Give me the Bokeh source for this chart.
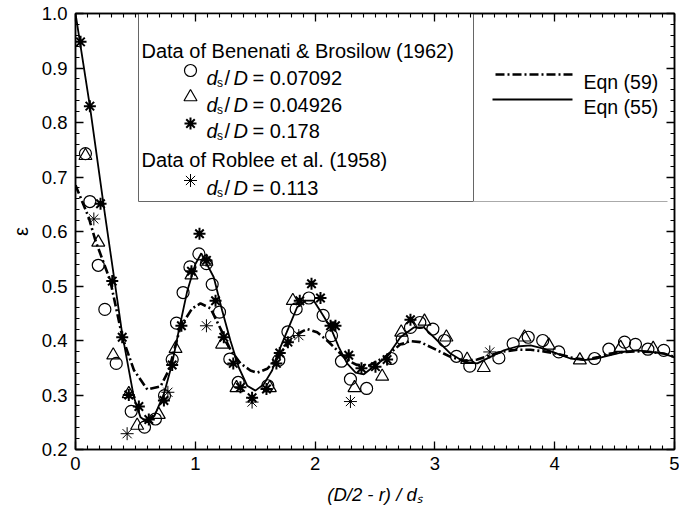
from bokeh.plotting import figure
from bokeh.models import (LinearAxis, Range1d, Label, PrintfTickFormatter,
                          SingleIntervalTicker)
from bokeh.embed import file_html
from bokeh.resources import INLINE

# ---------------- data ----------------
# Benenati & Brosilow (1962), d_s/D = 0.07092 (open circles)
circ_x = [0.083, 0.12, 0.19, 0.245, 0.34, 0.465, 0.576, 0.667, 0.743, 0.807,
          0.843, 0.898, 0.955, 1.03, 1.093, 1.141, 1.202, 1.288, 1.358, 1.605,
          1.697, 1.773, 1.842, 1.948, 2.067, 2.137, 2.22, 2.295, 2.43, 2.635,
          2.727, 2.796, 2.874, 2.983, 3.08, 3.18, 3.291, 3.534, 3.653, 3.779,
          3.90, 4.034, 4.333, 4.452, 4.583, 4.674, 4.778, 4.91]
circ_y = [0.743, 0.655, 0.538, 0.457, 0.358, 0.270, 0.241, 0.256, 0.299, 0.365,
          0.432, 0.488, 0.535, 0.559, 0.541, 0.503, 0.452, 0.366, 0.323, 0.317,
          0.364, 0.416, 0.458, 0.478, 0.446, 0.409, 0.362, 0.329, 0.312, 0.367,
          0.403, 0.424, 0.433, 0.421, 0.400, 0.371, 0.353, 0.368, 0.394, 0.406,
          0.400, 0.379, 0.367, 0.384, 0.397, 0.393, 0.384, 0.382]

# d_s/D = 0.04926 (open triangles)
tri_x = [0.083, 0.19, 0.315, 0.445, 0.515, 0.695, 0.835, 0.968, 1.093, 1.224,
         1.344, 1.622, 1.814, 2.329, 2.56, 2.719, 2.913, 3.096, 3.269, 3.408,
         3.748, 3.951, 4.21, 4.55, 4.822]
tri_y = [0.739, 0.580, 0.373, 0.302, 0.244, 0.264, 0.385, 0.520, 0.545, 0.393,
         0.313, 0.313, 0.473, 0.313, 0.334, 0.415, 0.435, 0.406, 0.365, 0.350,
         0.406, 0.391, 0.364, 0.387, 0.385]

# d_s/D = 0.178 (heavy asterisks)
star_x = [0.042, 0.12, 0.209, 0.307, 0.39, 0.445, 0.529, 0.612, 0.738, 0.807,
          0.884, 0.968, 1.035, 1.093, 1.169, 1.238, 1.317, 1.377, 1.474, 1.594,
          1.677, 1.705, 1.773, 1.872, 1.97, 2.045, 2.129, 2.17, 2.281, 2.387,
          2.504, 2.601, 2.796]
star_y = [0.948, 0.830, 0.651, 0.509, 0.406, 0.300, 0.279, 0.255, 0.290, 0.355,
          0.427, 0.527, 0.596, 0.547, 0.473, 0.406, 0.358, 0.314, 0.295, 0.311,
          0.358, 0.377, 0.397, 0.473, 0.504, 0.478, 0.427, 0.427, 0.373, 0.349,
          0.352, 0.365, 0.438]

# Roblee et al. (1958), d_s/D = 0.113 (light asterisks)
rob_x = [0.153, 0.431, 0.771, 1.093, 1.474, 1.864, 2.295, 3.458]
rob_y = [0.623, 0.229, 0.305, 0.427, 0.287, 0.409, 0.288, 0.379]

# Eqn (55) (solid)
eq55_x = [0.0, 0.12, 0.24, 0.39, 0.487, 0.543, 0.60, 0.66, 0.738, 0.807, 0.862,
          0.933, 1.0, 1.05, 1.154, 1.224, 1.293, 1.364, 1.433, 1.502, 1.572,
          1.641, 1.711, 1.78, 1.85, 1.92, 1.989, 2.058, 2.129, 2.198, 2.267,
          2.338, 2.407, 2.47, 2.601, 2.712, 2.824, 2.908, 3.02, 3.13, 3.242,
          3.354, 3.464, 3.576, 3.686, 3.798, 3.908, 4.02, 4.131, 4.243, 4.355,
          4.465, 4.577, 4.688, 4.8, 4.91, 5.0]
eq55_y = [1.0, 0.830, 0.640, 0.412, 0.296, 0.259, 0.250, 0.262, 0.302, 0.358,
          0.418, 0.491, 0.540, 0.560, 0.516, 0.455, 0.400, 0.350, 0.317, 0.308,
          0.320, 0.345, 0.388, 0.424, 0.461, 0.473, 0.473, 0.449, 0.424, 0.388,
          0.358, 0.341, 0.338, 0.349, 0.370, 0.406, 0.424, 0.424, 0.400, 0.376,
          0.361, 0.358, 0.370, 0.382, 0.389, 0.391, 0.385, 0.376, 0.367, 0.364,
          0.367, 0.373, 0.379, 0.382, 0.379, 0.376, 0.369]

# Eqn (59) (dash-dot)
eq59_x = [0.0, 0.11, 0.167, 0.29, 0.39, 0.487, 0.60, 0.71, 0.78, 0.876, 0.974,
          1.043, 1.127, 1.21, 1.293, 1.377, 1.46, 1.516, 1.60, 1.683, 1.767,
          1.85, 1.934, 2.017, 2.10, 2.184, 2.267, 2.35, 2.45, 2.60, 2.712,
          2.796, 2.879, 3.02, 3.13, 3.242, 3.354, 3.464, 3.576, 3.686, 3.798,
          3.908, 4.02, 4.131, 4.243, 4.355, 4.465, 4.577, 4.688, 4.8, 4.91, 5.0]
eq59_y = [0.685, 0.626, 0.583, 0.510, 0.407, 0.346, 0.310, 0.316, 0.346, 0.425,
          0.459, 0.468, 0.459, 0.422, 0.383, 0.358, 0.345, 0.341, 0.348, 0.367,
          0.394, 0.412, 0.421, 0.415, 0.400, 0.382, 0.364, 0.355, 0.354, 0.372,
          0.393, 0.399, 0.397, 0.382, 0.370, 0.363, 0.365, 0.373, 0.380, 0.383,
          0.383, 0.380, 0.376, 0.369, 0.365, 0.369, 0.376, 0.379, 0.380, 0.379,
          0.376, 0.370]

x_ticks_interval = 1
y_ticks_interval = 0.1
x_title = "(D/2 - r) / d\u209b"
y_title = "\u03b5"

# ---------------- layout ----------------
W, H = 679, 512
FL, FR, FT, FB = 75, 674, 13, 449          # frame edges in canvas pixels
X0, X1, Y0, Y1 = 0.0, 5.0, 0.2, 1.0
FONT = "Liberation Sans"


def px_x(px):
    return X0 + (px - FL) / (FR - FL) * (X1 - X0)


def px_y(py):
    return Y1 - (py - FT) / (FB - FT) * (Y1 - Y0)


p = figure(width=W, height=H, x_range=Range1d(X0, X1), y_range=Range1d(Y0, Y1),
           output_backend="svg", toolbar_location=None,
           min_border_left=FL, min_border_right=W - FR,
           min_border_top=FT, min_border_bottom=H - FB)
p.background_fill_color = "white"
p.border_fill_color = "white"
p.outline_line_color = "black"
p.outline_line_width = 1.5
p.xgrid.visible = False
p.ygrid.visible = False

xt = SingleIntervalTicker(interval=x_ticks_interval, num_minor_ticks=10)
yt = SingleIntervalTicker(interval=y_ticks_interval, num_minor_ticks=5)


def style_axis(ax):
    ax.major_tick_in = 8
    ax.major_tick_out = 0
    ax.minor_tick_in = 4
    ax.minor_tick_out = 0
    ax.axis_line_color = "black"
    ax.axis_line_width = 1.5
    ax.major_tick_line_color = "black"
    ax.major_tick_line_width = 1.3
    ax.minor_tick_line_color = "black"
    ax.minor_tick_line_width = 1.1
    ax.major_label_text_font = FONT
    ax.major_label_text_font_size = "18.5px"
    ax.major_label_text_color = "black"


xa = p.xaxis[0]
xa.ticker = xt
style_axis(xa)
xa.major_label_standoff = 7
xa.axis_label = x_title
xa.axis_label_text_font = FONT
xa.axis_label_text_font_size = "18.5px"
xa.axis_label_text_font_style = "italic"
xa.axis_label_text_color = "black"
xa.axis_label_standoff = 11

ya = p.yaxis[0]
ya.ticker = yt
style_axis(ya)
ya.formatter = PrintfTickFormatter(format="%.1f")
ya.major_label_standoff = 8
ya.axis_label = y_title
ya.axis_label_text_font = FONT
ya.axis_label_text_font_size = "20px"
ya.axis_label_text_font_style = "normal"
ya.axis_label_text_color = "black"
ya.axis_label_standoff = 7

for loc, tk in (("above", xt), ("right", yt)):
    ax = LinearAxis(ticker=tk)
    style_axis(ax)
    ax.major_label_text_font_size = "1px"
    ax.major_label_text_color = None
    ax.major_label_standoff = 0
    ax.axis_label = None
    p.add_layout(ax, loc)

# ---------------- legend box (drawn first) ----------------
p.quad(left=[px_x(138)], right=[px_x(473)], bottom=[px_y(201)], top=[Y1],
       fill_color="white", line_color="#666666", line_width=1)
p.line([px_x(473), px_x(667)], [px_y(201), px_y(201)], line_color="#aaaaaa",
       line_width=1)

# ---------------- curves ----------------
p.line(eq59_x, eq59_y, line_color="black", line_width=2.6, line_dash="9 3 2 3")
p.line(eq55_x, eq55_y, line_color="black", line_width=1.8)

# ---------------- data points ----------------
STAR_SIZE, STAR_W = 12, 2.0
p.scatter(circ_x, circ_y, marker="circle", size=12, fill_color=None,
          line_color="black", line_width=1.2)
p.scatter(tri_x, tri_y, marker="triangle", size=13, fill_color=None,
          line_color="black", line_width=1.2)
p.scatter(star_x, star_y, marker="asterisk", size=STAR_SIZE, line_color="black",
          line_width=STAR_W)
p.scatter(rob_x, rob_y, marker="asterisk", size=13, line_color="black",
          line_width=1.0)

# ---------------- legend (left box) ----------------
LFS = "20px"


def text(px, py, s, size=LFS, style="normal"):
    p.add_layout(Label(x=px_x(px), y=px_y(py), text=s, text_font=FONT,
                       text_font_size=size, text_font_style=style,
                       text_color="black", text_align="left",
                       text_baseline="alphabetic"))


def ratio_row(py_base, val):
    x0 = 206
    text(x0, py_base, "d", style="italic")
    text(x0 + 10.5, py_base + 5, "s", size="12px")
    text(x0 + 18, py_base, "/")
    text(x0 + 27, py_base, "D", style="italic")
    text(x0 + 46, py_base, "= " + val)


text(141, 50, "Data of Benenati & Brosilow (1962)")
ratio_row(77, "0.07092")
ratio_row(104, "0.04926")
ratio_row(130.5, "0.178")
text(141, 159, "Data of Roblee et al. (1958)")
ratio_row(187, "0.113")

lx = px_x(190)
p.scatter([lx], [px_y(70)], marker="circle", size=12, fill_color=None,
          line_color="black", line_width=1.2)
p.scatter([lx], [px_y(96.5)], marker="triangle", size=13, fill_color=None,
          line_color="black", line_width=1.2)
p.scatter([lx], [px_y(123)], marker="asterisk", size=STAR_SIZE,
          line_color="black", line_width=STAR_W)
p.scatter([lx], [px_y(180)], marker="asterisk", size=13, line_color="black",
          line_width=1.0)

# ---------------- legend (right, no box) ----------------
p.line([px_x(495), px_x(572)], [px_y(74), px_y(74)], line_color="black",
       line_width=2.6, line_dash="9 3 2 3")
p.line([px_x(492), px_x(572)], [px_y(99), px_y(99)], line_color="black",
       line_width=1.8)
text(583, 81, "Eqn (59)", size="19.5px")
text(583, 106, "Eqn (55)", size="19.5px")

open("out.html", "w").write(file_html(p, INLINE))
